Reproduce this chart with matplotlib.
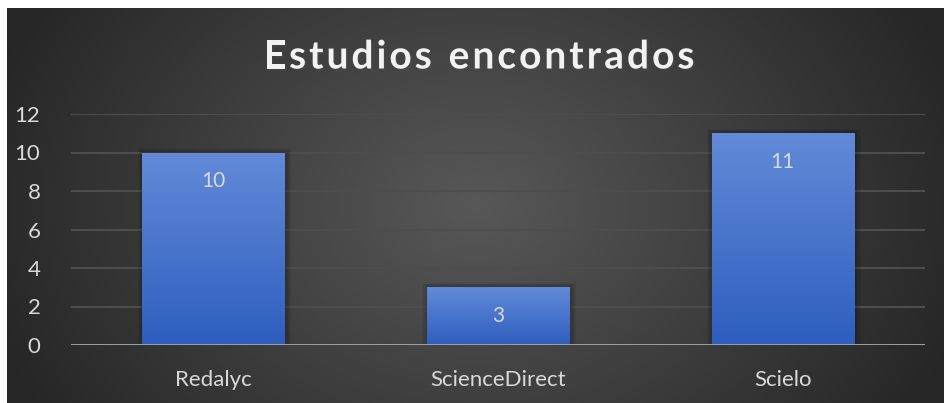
import numpy as np
from matplotlib import pyplot as plt
from matplotlib.patches import Rectangle
import matplotlib.patheffects as pe

categorias = ['Redalyc', 'ScienceDirect', 'Scielo']
estudios = [10, 3, 11]
yticks = [0, 2, 4, 6, 8, 10, 12]
titulo = 'Estudios encontrados'

plt.rcParams['font.family'] = ['Lato', 'DejaVu Sans']

fig = plt.figure(figsize=(9.44, 4.03), dpi=100)
fig.patch.set_facecolor('white')

# fondo con degradado radial
bg = fig.add_axes([7/944, 0, 1 - 7/944, 395/403])
bg.set_axis_off()
yy, xx = np.mgrid[-1:1:200j, -1:1:400j]
r = np.sqrt(xx**2 + (yy * 0.55)**2)
r = np.clip(r / 1.1, 0, 1)
c1 = np.array([0x58, 0x58, 0x58]) / 255
c2 = np.array([0x26, 0x26, 0x26]) / 255
img = c1 + (c2 - c1) * r[..., None]
bg.imshow(img, aspect='auto', extent=[0, 1, 0, 1])
bg.set_xlim(0, 1)
bg.set_ylim(0, 1)

ax = fig.add_axes([71/944, 58/403, 854/944, 231/403])
ax.set_facecolor('none')
x = np.arange(len(categorias))
barras = ax.bar(x, estudios, width=0.5, color='none', zorder=3)

grad = np.linspace(0, 1, 256)[:, None]
top = np.array([0x62, 0x8a, 0xd8]) / 255
bot = np.array([0x2e, 0x5e, 0xbe]) / 255
gimg = top + (bot - top) * grad[..., None]
for b in barras:
    x0, w, h = b.get_x(), b.get_width(), b.get_height()
    # sombra suave
    for k in range(1, 6):
        d = 0.004 * k
        sh = Rectangle((x0 - d + 0.004, -0.02), w + 2 * d, h + 0.02 + d * 12,
                       facecolor='black', alpha=0.05, zorder=2, linewidth=0)
        ax.add_patch(sh)
    im = ax.imshow(gimg, extent=[x0, x0 + w, 0, h], aspect='auto', zorder=3)
    im.set_clip_path(b)
    ax.text(x0 + w / 2, h - 1.5, str(int(h)), ha='center', va='center',
            color='#d9d9d9', fontsize=15, zorder=4)

ax.set_xlim(-0.5, 2.5)
ax.set_ylim(0, 12)
ax.set_yticks(yticks)
ax.set_xticks(x)
ax.set_xticklabels(categorias)
ax.grid(axis='y', color='#4d4d4d', linewidth=1.5, zorder=1)
ax.axhline(0, color='#a6a6a6', linewidth=2, zorder=5)
for s in ax.spines.values():
    s.set_visible(False)
ax.tick_params(axis='both', length=0, colors='#d9d9d9', labelsize=16)
ax.tick_params(axis='y', pad=22)
ax.tick_params(axis='x', pad=18)

# titulo con espaciado entre letras
renderer = fig.canvas.get_renderer()
tkw = dict(color='#f2f2f2', fontsize=28, fontweight='bold', va='center', ha='left',
           path_effects=[pe.withSimplePatchShadow(offset=(1.5, -1.5), alpha=0.5)])
track = 3.0
anchos = []
for ch in titulo:
    t = fig.text(0, 0, ch if ch != ' ' else 'n', **tkw)
    bb = t.get_window_extent(renderer)
    anchos.append(bb.width * (0.5 if ch == ' ' else 1.0))
    t.remove()
total = sum(anchos) + track * (len(titulo) - 1)
xpos = 479 - total / 2
for ch, wch in zip(titulo, anchos):
    if ch != ' ':
        fig.text(xpos / 944, 1 - 57/403, ch, **tkw)
    xpos += wch + track

fig.savefig('out.png', dpi=100)
